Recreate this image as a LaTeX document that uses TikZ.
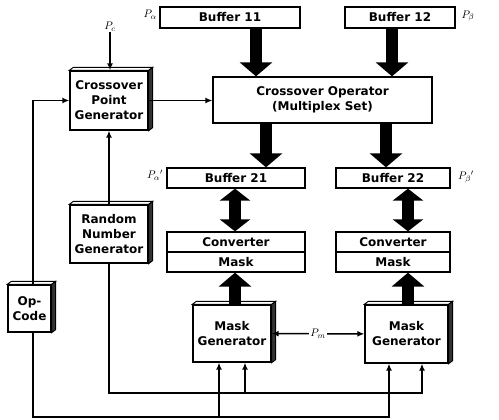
\documentclass[tikz,border=0pt]{standalone}
\usepackage{fontspec}
\setmainfont{DejaVu Sans}
\usetikzlibrary{arrows.meta}

\begin{document}
\begin{tikzpicture}[x=1pt,y=-1pt,>={Latex[length=7pt,width=6pt]},
  box/.style={draw,line width=1.3pt,fill=white,inner sep=0pt,align=center,
    font=\bfseries\fontsize{12}{15}\selectfont},
  lbl/.style={inner sep=0pt,font=\fontsize{11}{13}\selectfont},
  conn/.style={line width=1.5pt},
  fat/.style={line width=12pt,-{Triangle[length=14pt,width=32pt]}},
  fatboth/.style={line width=12pt,{Triangle[length=12pt,width=30pt]}-{Triangle[length=12pt,width=30pt]}}]

\useasboundingbox (0,0) rectangle (499,420);

\node(pa) at (150,15)[lbl]{$P_\alpha$};
\node(buf11) at (230,17.5)[box,minimum width=140,minimum height=21]{Buffer 11};
\node(buf12) at (400,17.5)[box,minimum width=110,minimum height=21]{Buffer 12};
\node(pb) at (468,16)[lbl]{$P_\beta$};
\node(pc) at (110,27)[lbl]{$P_c$};
\node(op) at (322.5,100)[box,minimum width=219,minimum height=46]{Crossover Operator\\(Multiplex Set)};
\node(cpg) at (109,100.5)[box,minimum width=78,minimum height=59]{Crossover\\Point\\Generator};
\node(pa2) at (155,175)[lbl]{$P_\alpha{}'$};
\node(buf21) at (236,178)[box,minimum width=138,minimum height=20]{Buffer 21};
\node(buf22) at (393,178)[box,minimum width=114,minimum height=20]{Buffer 22};
\node(pb2) at (466,177)[lbl]{$P_\beta{}'$};
\node(conv1) at (236,242)[box,minimum width=138,minimum height=20]{Converter};
\node(mask1) at (236,262)[box,minimum width=138,minimum height=20]{Mask};
\node(conv2) at (393,242)[box,minimum width=114,minimum height=20]{Converter};
\node(mask2) at (393,262)[box,minimum width=114,minimum height=20]{Mask};
\node(rng) at (109,234)[box,minimum width=78,minimum height=58]{Random\\Number\\Generator};
\node(opc) at (29.5,308.5)[box,minimum width=43,minimum height=47]{Op-\\Code};
\node(mg1) at (232,333.5)[box,minimum width=78,minimum height=57]{Mask\\Generator};
\node(mg2) at (406.5,334)[box,minimum width=83,minimum height=58]{Mask\\Generator};

% depth of the solid boxes
\foreach \n in {cpg,rng,opc,mg1,mg2}{
  \filldraw[line width=0.9pt,fill=white] (\n.north west) -- ++(4,-3) -- ([shift={(4,-3)}]\n.north east) -- (\n.north east) -- cycle;
  \filldraw[line width=0.9pt,fill=black!80] (\n.north east) -- ++(4,-3) -- ([shift={(4,-3)}]\n.south east) -- (\n.south east) -- cycle;
}

% x positions of the wide arrows and the bus lines
\coordinate(ta1) at (256,0);
\coordinate(ta2) at (392,0);
\coordinate(tb1) at (266,0);
\coordinate(tb2) at (386,0);
\coordinate(tc1) at (235,0);
\coordinate(tc2) at (408,0);
\coordinate(xo) at (33,0);
\coordinate(xm1) at (219,0);
\coordinate(xm2) at (389,0);
\coordinate(xr1) at (245,0);
\coordinate(xr2) at (422,0);
\coordinate(busA) at (0,393);
\coordinate(busB) at (0,417);

\draw[fat] (ta1 |- buf11.south) -- (ta1 |- op.north);
\draw[fat] (ta2 |- buf12.south) -- (ta2 |- op.north);
\draw[fat] (tb1 |- op.south) -- (tb1 |- buf21.north);
\draw[fat] (tb2 |- op.south) -- (tb2 |- buf22.north);
\draw[fatboth] (tc1 |- buf21.south) -- (tc1 |- conv1.north);
\draw[fatboth] (tc2 |- buf22.south) -- (tc2 |- conv2.north);
\draw[fat] (tc1 |- mg1.north) -- (tc1 |- mask1.south);
\draw[fat] (tc2 |- mg2.north) -- (tc2 |- mask2.south);

\draw[conn,->] (pc) -- (pc |- cpg.north);
\draw[conn,->] (cpg.east) -- (cpg.east -| op.west);
\draw[conn,->] (rng.north) -- (cpg.south);
\draw[conn,->] (xo |- opc.north) |- (cpg.west);
\draw[conn,->] (rng.south) |- (xr2 |- busA) -- (xr2 |- mg2.south);
\draw[conn,->] (xr1 |- busA) -- (xr1 |- mg1.south);
\draw[conn,->] (xo |- opc.south) |- (xm2 |- busB) -- (xm2 |- mg2.south);
\draw[conn,->] (xm1 |- busB) -- (xm1 |- mg1.south);
\draw[conn,<->] (mg1) -- node(pm)[fill=white,inner sep=1pt,font=\fontsize{11}{13}\selectfont]{$P_m$} (mg2);

\end{tikzpicture}
\end{document}
